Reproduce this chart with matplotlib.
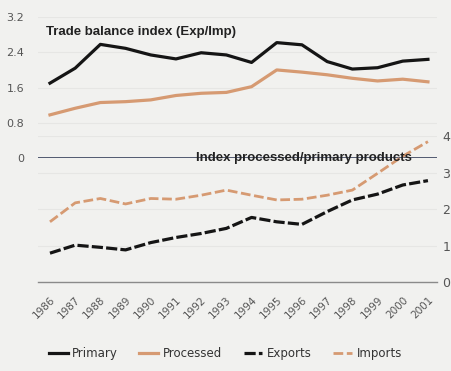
import matplotlib.pyplot as plt

# Years and series
years = list(range(1986, 2002))

primary = [1.70, 2.04, 2.58, 2.49, 2.34, 2.25, 2.39, 2.34,
           2.17, 2.62, 2.57, 2.19, 2.02, 2.05, 2.20, 2.24]
processed = [0.98, 1.13, 1.26, 1.28, 1.32, 1.42, 1.47, 1.49,
             1.62, 2.00, 1.95, 1.89, 1.81, 1.75, 1.79, 1.73]

exports = [0.79, 1.01, 0.95, 0.88, 1.08, 1.22, 1.33, 1.47,
           1.77, 1.65, 1.58, 1.93, 2.25, 2.41, 2.66, 2.78]
imports = [1.65, 2.17, 2.29, 2.14, 2.29, 2.27, 2.38, 2.52,
           2.38, 2.25, 2.27, 2.38, 2.52, 2.98, 3.45, 3.85]

top_ticks = [0, 0.8, 1.6, 2.4, 3.2]
bottom_ticks = [0, 1, 2, 3, 4]

bg = '#f1f1ef'
black = '#151515'
orange = '#d69a72'
grid_c = '#e6e6e4'
tick_c = '#555555'

fig = plt.figure(figsize=(4.51, 3.71), dpi=100, facecolor=bg)

# upper panel: trade balance index
ax1 = fig.add_axes([0.084, 0.574, 0.885, 0.380])
ax1.set_facecolor('none')
ax1.plot(years, primary, color=black, lw=2.3, label='Primary')
ax1.plot(years, processed, color=orange, lw=2.3, label='Processed')
ax1.axhline(0, color='#3c4660', lw=1.3, zorder=1)
ax1.set_ylim(0, 3.2)
ax1.set_xlim(1985.52, 2001.36)
ax1.set_yticks(top_ticks)
ax1.set_yticklabels(['0', '0.8', '1.6', '2.4', '3.2'])
ax1.set_xticks([])
ax1.grid(axis='y', color=grid_c, lw=0.8)
ax1.tick_params(axis='y', length=0, labelsize=8, colors=tick_c, pad=10)
for s in ax1.spines.values():
    s.set_visible(False)
ax1.text(0.02, 0.87, 'Trade balance index (Exp/Imp)', transform=ax1.transAxes,
         fontsize=9.5, fontweight='bold', family='Liberation Sans', color='#222222')

# lower panel: processed / primary index
ax2 = fig.add_axes([0.084, 0.240, 0.885, 0.393])
ax2.set_facecolor('none')
ax2.plot(years, exports, color=black, lw=2.3, ls=(0, (3.5, 1.0)), label='Exports')
ax2.plot(years, imports, color=orange, lw=2.0, ls=(0, (3.5, 1.3)), label='Imports')
ax2.set_ylim(0, 4)
ax2.set_xlim(1985.52, 2001.36)
ax2.set_yticks(bottom_ticks)
ax2.yaxis.tick_right()
ax2.grid(axis='y', color=grid_c, lw=0.8)
ax2.tick_params(axis='y', length=0, labelsize=9, colors=tick_c, pad=4)
ax2.set_xticks(years)
ax2.set_xticklabels([str(y) for y in years], rotation=45, ha='right',
                    rotation_mode='anchor', fontsize=7.5, color=tick_c)
ax2.tick_params(axis='x', length=0, pad=9)
for k in ['top', 'left', 'right']:
    ax2.spines[k].set_visible(False)
ax2.spines['bottom'].set_color('#8a8a8a')
ax2.spines['bottom'].set_linewidth(1.0)
ax2.text(0.395, 0.83, 'Index processed/primary products', transform=ax2.transAxes,
         fontsize=9.5, fontweight='bold', family='Liberation Sans', color='#222222')

handles = ax1.get_lines()[:2] + ax2.get_lines()[:2]
fig.legend(handles, ['Primary', 'Processed', 'Exports', 'Imports'],
           loc='lower center', bbox_to_anchor=(0.5, 0.0), ncol=4, frameon=False,
           fontsize=8.5, handlelength=1.6, columnspacing=1.8, handletextpad=0.4,
           labelcolor='#333333')

fig.savefig('out.png', dpi=100, facecolor=bg)
